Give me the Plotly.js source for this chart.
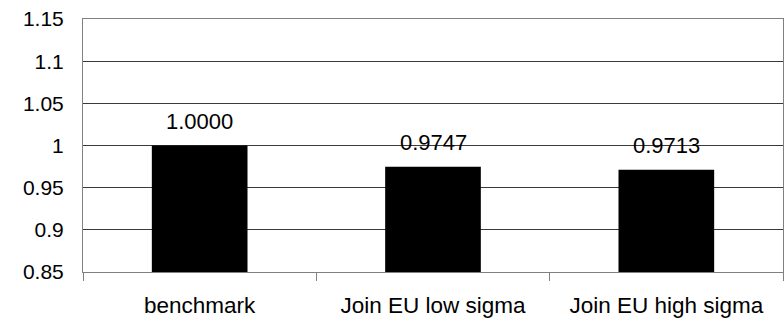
<!DOCTYPE html>
<html>
<head>
<meta charset="utf-8">
<script src="https://cdn.plot.ly/plotly-3.0.1.min.js"></script>
<style>html,body{margin:0;padding:0;background:#fff;}#chart{width:784px;height:323px;}</style>
</head>
<body>
<div id="chart"></div>
<script>
const categories = ["benchmark", "Join EU low sigma", "Join EU high sigma"];
const values = [1.0000, 0.9747, 0.9713];
const yTickVals = [0.85, 0.9, 0.95, 1, 1.05, 1.1, 1.15];
const yTickText = ["0.85", "0.9", "0.95", "1", "1.05", "1.1", "1.15"];

const FONT = "Liberation Sans, Arial, sans-serif";

const trace = {
  type: "bar",
  x: categories,
  y: values,
  marker: {color: "#000000", line: {width: 0}},
  width: 0.41,
  hoverinfo: "none"
};

const annotations = categories.map((c, i) => ({
  x: c, y: values[i], xref: "x", yref: "y",
  text: values[i].toFixed(4),
  showarrow: false, yanchor: "bottom", yshift: 10,
  font: {family: FONT, size: 22, color: "#000"}
}));

const layout = {
  width: 784, height: 323,
  margin: {l: 83, r: 1, t: 19, b: 51},
  paper_bgcolor: "#fff", plot_bgcolor: "#fff",
  showlegend: false,
  font: {family: FONT, size: 22, color: "#000"},
  xaxis: {
    type: "category",
    showline: true, linecolor: "#808080", linewidth: 1, mirror: true,
    ticks: "outside", tickson: "boundaries", ticklen: 8, tickcolor: "#808080", tickwidth: 1,
    ticklabelstandoff: 13,
    showgrid: false, zeroline: false,
    tickfont: {family: FONT, size: 22.5, color: "#000"}
  },
  yaxis: {
    range: [0.85, 1.15],
    tickvals: yTickVals, ticktext: yTickText,
    showgrid: true, gridcolor: "#3a3a3a", gridwidth: 1,
    showline: true, linecolor: "#808080", linewidth: 1, mirror: true,
    ticks: "", ticklabelstandoff: 14, zeroline: false,
    tickfont: {family: FONT, size: 21, color: "#000"}
  },
  bargap: 0.59,
  annotations: annotations
};

Plotly.newPlot("chart", [trace], layout, {staticPlot: true, displayModeBar: false});
</script>
</body>
</html>
